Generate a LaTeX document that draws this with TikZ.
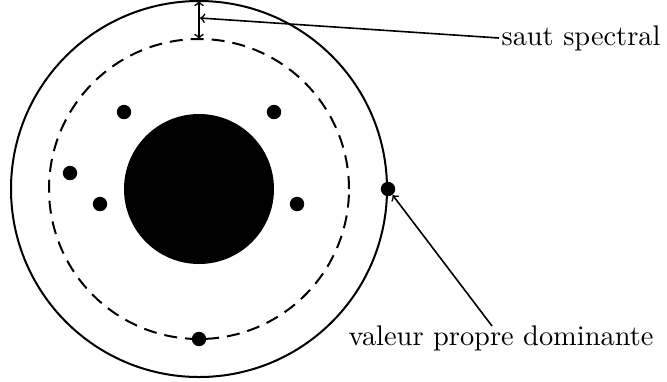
\documentclass[tikz,border=0pt]{standalone}
\begin{document}
\begin{tikzpicture}[x=0.5pt,y=-0.5pt,
  ring/.style={circle,draw,line width=1pt,inner sep=0pt},
  eig/.style={circle,fill=black,inner sep=0pt,minimum size=7.2pt},
  lbl/.style={font=\fontsize{10pt}{12pt}\selectfont,inner sep=0.7pt,scale=1.42},
  conn/.style={line width=0.8pt,->}]
\useasboundingbox (0,0) rectangle (667,381);
\node[ring,minimum size=188pt] (outer) at (199,189) {};
\node[ring,minimum size=150pt,dash pattern=on 6.5pt off 4pt] (dashc) at (199,189) {};
\node[circle,fill=black,inner sep=0pt,minimum size=75pt] (core) at (199,189) {};
\node[eig] (e1) at (124,112) {};
\node[eig] (e2) at (274,112) {};
\node[eig] (e3) at (70,173) {};
\node[eig] (e4) at (100,204) {};
\node[eig] (e5) at (297,204) {};
\node[eig] (e6) at (199,339) {};
\node[eig] (dom) at (388,189) {};
\coordinate (gtop) at (199,1);
\coordinate (gbot) at (199,39);
\coordinate (gmid) at (200,18);
\draw[line width=0.8pt,<->] (gtop) -- (gbot);
\node[lbl,anchor=west] (saut) at (499,38) {saut spectral};
\node[lbl] (val) at (501,338) {valeur propre dominante};
\coordinate (valtop) at (492,326);
\draw[conn] (saut.west) -- (gmid);
\draw[conn] (valtop) -- (dom);
\end{tikzpicture}
\end{document}
